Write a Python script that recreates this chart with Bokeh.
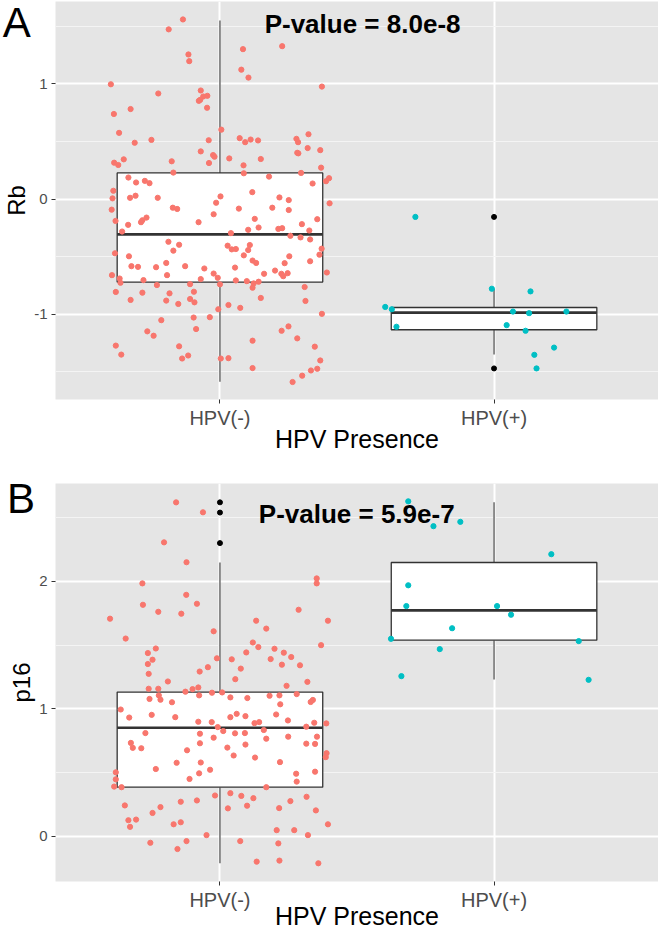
from bokeh.plotting import figure
from bokeh.models import Label, FixedTicker, Range1d
from bokeh.layouts import column
from bokeh.embed import file_html
from bokeh.resources import INLINE
from bokeh.core.properties import value

categories = ["HPV(-)", "HPV(+)"]
cat_pos = [1, 2]

# ---------------- Panel A : Rb ----------------
rb_neg = [
    (0.865, 1.560), (0.813, 1.474), (1.227, 1.328), (1.084, 1.302), (0.885, 1.256), (0.888, 1.198),
    (1.078, 1.124), (1.104, 1.055), (0.602, 0.997), (1.372, 0.977), (0.930, 0.943), (0.775, 0.917),
    (0.954, 0.897), (0.939, 0.891), (0.928, 0.862), (0.923, 0.853), (0.674, 0.782), (0.953, 0.793),
    (0.613, 0.739), (0.632, 0.575), (0.689, 0.489), (0.750, 0.514), (1.005, 0.603), (1.072, 0.529),
    (1.092, 0.494), (1.112, 0.517), (1.139, 0.509), (0.959, 0.511), (1.279, 0.523), (1.285, 0.494),
    (1.323, 0.563), (1.282, 0.402), (1.286, 0.397), (1.320, 0.443), (1.366, 0.425), (0.930, 0.414),
    (0.975, 0.382), (0.980, 0.368), (0.960, 0.313), (1.034, 0.353), (1.086, 0.293), (1.149, 0.348),
    (0.614, 0.316), (0.629, 0.296), (0.649, 0.345), (0.824, 0.328), (1.369, 0.273), (0.830, 0.230),
    (1.087, 0.224), (1.296, 0.227), (1.179, 0.195), (0.666, 0.187), (0.694, 0.144), (0.726, 0.158),
    (0.743, 0.138), (1.387, 0.155), (1.398, 0.181), (0.611, 0.072), (0.608, 0.006), (0.672, 0.011),
    (0.692, 0.029), (0.773, 0.011), (1.002, 0.023), (0.986, -0.032), (1.118, 0.060), (1.338, 0.135),
    (1.217, 0.014), (1.251, -0.009), (0.605, -0.092), (0.828, -0.075), (0.844, -0.086), (1.069, -0.083),
    (0.977, -0.132), (1.191, -0.075), (1.251, -0.095), (1.400, -0.037), (0.619, -0.190), (0.665, -0.224),
    (0.643, -0.282), (0.712, -0.201), (0.717, -0.184), (0.732, -0.161), (0.922, -0.201), (1.127, -0.172),
    (1.213, -0.259), (1.227, -0.253), (1.103, -0.267), (1.141, -0.247), (1.040, -0.296), (1.299, -0.218),
    (1.326, -0.273), (1.355, -0.175), (1.257, -0.319), (1.294, -0.333), (1.329, -0.351), (0.812, -0.371),
    (0.851, -0.397), (0.830, -0.448), (0.617, -0.471), (0.668, -0.497), (1.028, -0.405), (1.043, -0.437),
    (1.058, -0.434), (1.109, -0.399), (1.103, -0.443), (1.087, -0.489), (1.253, -0.497), (1.363, -0.483),
    (1.371, -0.431), (1.329, -0.540), (1.119, -0.534), (1.132, -0.555), (1.236, -0.557), (0.804, -0.555),
    (0.677, -0.583), (0.701, -0.589), (0.767, -0.592), (0.873, -0.583), (0.943, -0.603), (1.055, -0.595),
    (0.606, -0.661), (1.161, -0.649), (1.201, -0.621), (1.224, -0.649), (1.231, -0.670), (1.247, -0.644),
    (1.390, -0.638), (0.807, -0.661), (0.634, -0.690), (0.637, -0.727), (0.721, -0.704), (0.891, -0.739),
    (0.930, -0.695), (0.977, -0.647), (0.992, -0.684), (1.000, -0.741), (1.058, -0.707), (1.098, -0.713),
    (1.123, -0.733), (1.141, -0.718), (0.770, -0.747), (0.620, -0.807), (0.717, -0.813), (0.816, -0.819),
    (0.905, -0.805), (1.309, -0.764), (1.119, -0.770), (0.674, -0.876), (0.804, -0.882), (0.848, -0.911),
    (0.891, -0.868), (0.907, -0.897), (1.149, -0.859), (1.312, -0.885), (1.031, -0.920), (1.074, -0.945),
    (0.994, -0.957), (0.963, -1.026), (0.904, -1.029), (0.786, -1.052), (1.372, -0.997), (0.913, -1.129),
    (0.735, -1.149), (0.758, -1.187), (1.225, -1.144), (1.250, -1.106), (1.282, -1.210), (1.119, -1.230),
    (0.620, -1.273), (0.640, -1.351), (0.851, -1.279), (1.346, -1.282), (0.862, -1.385), (0.884, -1.359),
    (1.003, -1.385), (1.031, -1.382), (1.366, -1.402), (1.119, -1.468), (1.332, -1.489), (1.355, -1.474),
    (1.300, -1.534), (1.265, -1.589),
]
rb_neg_x = [a for a, b in rb_neg]
rb_neg_y = [b for a, b in rb_neg]
rb_pos_x = [1.713, 1.603, 1.627, 1.644, 1.992, 2.133, 2.069, 2.128, 2.264, 2.046, 2.115, 2.219, 2.147, 2.155]
rb_pos_y = [-0.155, -0.937, -0.957, -1.109, -0.779, -0.802, -0.977, -0.991, -0.977, -1.095, -1.144, -1.290, -1.353, -1.471]
rb_q1 = [-0.721, -1.135]
rb_med = [-0.307, -0.986]
rb_q3 = [0.227, -0.942]
rb_lo = [-1.586, -1.350]
rb_hi = [1.552, -0.779]
rb_out_x = [2, 2]
rb_out_y = [-0.155, -1.471]

# ---------------- Panel B : p16 ----------------
p16_neg = [
    (0.840, 2.620), (0.938, 2.542), (0.796, 2.306), (0.878, 2.150), (0.717, 1.984), (1.353, 2.023),
    (1.353, 1.984), (0.877, 1.894), (0.719, 1.816), (0.916, 1.824), (0.775, 1.761), (0.859, 1.746),
    (0.599, 1.707), (1.394, 1.691), (1.287, 1.777), (1.132, 1.691), (1.169, 1.629), (0.977, 1.608),
    (0.656, 1.551), (1.369, 1.499), (1.120, 1.520), (1.140, 1.484), (1.096, 1.442), (1.199, 1.471),
    (1.233, 1.440), (1.260, 1.406), (0.737, 1.437), (0.766, 1.473), (0.754, 1.385), (0.737, 1.351),
    (0.989, 1.396), (1.043, 1.388), (0.956, 1.326), (0.926, 1.292), (1.076, 1.315), (1.292, 1.341),
    (1.226, 1.346), (1.185, 1.390), (0.740, 1.274), (1.056, 1.232), (0.810, 1.214), (1.319, 1.211),
    (0.740, 1.157), (0.775, 1.157), (1.243, 1.180), (0.921, 1.167), (0.900, 1.154), (0.743, 1.077),
    (0.777, 1.105), (0.783, 1.071), (0.825, 1.051), (0.874, 1.134), (0.924, 1.105), (0.971, 1.126),
    (1.008, 1.128), (1.038, 1.089), (1.100, 1.084), (1.181, 1.102), (1.217, 1.105), (1.280, 1.115),
    (1.339, 1.069), (1.331, 1.053), (1.220, 1.035), (0.638, 0.994), (0.751, 0.952), (0.669, 0.931),
    (0.837, 0.934), (0.921, 0.898), (0.970, 0.895), (1.038, 0.934), (1.061, 0.960), (1.093, 0.942),
    (1.126, 0.887), (1.143, 0.895), (1.205, 0.955), (1.248, 0.908), (1.315, 0.859), (1.344, 0.890),
    (1.388, 0.885), (0.728, 0.809), (0.675, 0.732), (0.682, 0.693), (0.713, 0.690), (0.927, 0.729),
    (0.927, 0.804), (0.992, 0.856), (0.977, 0.773), (1.012, 0.825), (1.055, 0.807), (1.091, 0.809),
    (1.160, 0.833), (1.093, 0.719), (1.027, 0.695), (1.169, 0.765), (1.249, 0.781), (1.315, 0.726),
    (1.347, 0.724), (1.354, 0.781), (1.128, 0.617), (0.930, 0.578), (0.880, 0.674), (0.842, 0.576),
    (0.766, 0.527), (1.050, 0.633), (0.964, 0.521), (0.924, 0.493), (0.889, 0.449), (1.219, 0.581),
    (1.278, 0.490), (1.280, 0.428), (1.347, 0.506), (1.386, 0.620), (1.389, 0.651), (0.620, 0.501),
    (0.620, 0.446), (0.614, 0.389), (0.641, 0.384), (0.653, 0.241), (0.666, 0.125), (0.672, 0.073),
    (0.694, 0.130), (0.754, 0.182), (0.783, 0.228), (0.857, 0.270), (0.916, 0.280), (0.982, 0.319),
    (1.029, 0.218), (1.038, 0.337), (1.078, 0.316), (1.099, 0.239), (1.122, 0.298), (1.169, 0.384),
    (1.216, 0.220), (1.257, 0.275), (1.316, 0.309), (1.350, 0.202), (1.207, 0.047), (1.271, 0.047),
    (1.321, 0.008), (1.394, 0.093), (1.213, -0.057), (1.074, -0.039), (0.951, 0.008), (0.878, -0.039),
    (0.845, -0.101), (0.746, -0.052), (0.831, 0.093), (0.857, 0.109), (1.134, -0.200), (1.217, -0.192),
    (1.359, -0.213),
]
p16_neg_x = [a for a, b in p16_neg]
p16_neg_y = [b for a, b in p16_neg]
p16_pos_x = [1.687, 1.779, 1.877, 2.209, 1.687, 1.680, 2.011, 2.062, 1.847, 1.624, 1.802, 1.662, 2.309, 2.345]
p16_pos_y = [2.628, 2.433, 2.467, 2.213, 1.969, 1.806, 1.806, 1.738, 1.632, 1.549, 1.468, 1.256, 1.531, 1.227]
p16_q1 = [0.384, 1.538]
p16_med = [0.851, 1.772]
p16_q3 = [1.131, 2.148]
p16_lo = [-0.212, 1.230]
p16_hi = [2.148, 2.620]
p16_out_x = [1, 1, 1]
p16_out_y = [2.620, 2.540, 2.300]

p_values = ["8.0e-8", "5.9e-7"]
x_title = "HPV Presence"

RED = "#F8766D"
TEAL = "#00BFC4"
FONT = "Liberation Sans"
BOX_HALF = 0.375
X0, X1 = 0.4, 2.6
BASE_SHIFT = 0.39   # measured offset of the rendered alphabetic baseline, in em
LETTER_SIZE = 42


def make_panel(W, H, left, top, bottom, y0, y1, yticks, yminor, ylabel,
               neg_x, neg_y, pos_x, pos_y, q1, med, q3, lo, hi, out_x, out_y,
               ptxt, p_cx_px, p_base_px, letter, letter_base_px, title_base_px, native_title):
    p = figure(width=W, height=H, x_range=Range1d(X0, X1), y_range=Range1d(y0, y1),
               output_backend="svg", toolbar_location=None,
               min_border_left=left, min_border_right=0,
               min_border_top=top, min_border_bottom=bottom)
    p.background_fill_color = "#E5E5E5"
    p.border_fill_color = "white"
    p.outline_line_color = None

    fw = W - left
    fh = H - top - bottom

    def fx(px):
        return X0 + (px - left) * (X1 - X0) / fw

    def fy(py, size=0):
        py = py - BASE_SHIFT * size
        return y1 - (py - top) * (y1 - y0) / fh

    # axes
    p.xaxis.ticker = FixedTicker(ticks=cat_pos)
    p.xaxis.major_label_overrides = {c: t for c, t in zip(cat_pos, categories)}
    p.yaxis.ticker = FixedTicker(ticks=yticks, minor_ticks=yminor)
    p.yaxis.major_label_overrides = {t: ("%d" % t) for t in yticks}
    for ax in (p.xaxis[0], p.yaxis[0]):
        ax.axis_line_color = None
        ax.major_tick_in = 0
        ax.major_tick_out = 4
        ax.major_tick_line_color = "#333333"
        ax.minor_tick_line_color = None
        ax.major_label_text_color = "#4D4D4D"
        ax.major_label_text_font = FONT
    p.xaxis.major_label_text_font_size = "20px"
    p.xaxis.major_label_standoff = 3
    p.yaxis.major_label_text_font_size = "15px"
    p.yaxis.major_label_standoff = 4
    p.yaxis.axis_label = ylabel
    p.yaxis.axis_label_text_font = FONT
    p.yaxis.axis_label_text_font_size = "24px"
    p.yaxis.axis_label_text_font_style = "normal"
    p.yaxis.axis_label_text_color = "black"
    p.yaxis.axis_label_standoff = 1
    if native_title:
        p.xaxis.axis_label = x_title
        p.xaxis.axis_label_text_font = FONT
        p.xaxis.axis_label_text_font_size = "25px"
        p.xaxis.axis_label_text_font_style = "normal"
        p.xaxis.axis_label_text_color = "black"
        p.xaxis.axis_label_standoff = -7

    # grids
    p.xgrid.ticker = FixedTicker(ticks=cat_pos)
    p.xgrid.grid_line_color = "white"
    p.xgrid.grid_line_width = 2
    p.ygrid.grid_line_color = "white"
    p.ygrid.grid_line_width = 2
    p.ygrid.minor_grid_line_color = "#F4F4F4"
    p.ygrid.minor_grid_line_width = 1

    # whiskers
    p.segment(x0=cat_pos, y0=q3, x1=cat_pos, y1=hi, line_color="#555555", line_width=1.3)
    p.segment(x0=cat_pos, y0=q1, x1=cat_pos, y1=lo, line_color="#555555", line_width=1.3)
    # boxes
    p.quad(left=[c - BOX_HALF for c in cat_pos], right=[c + BOX_HALF for c in cat_pos],
           bottom=q1, top=q3, fill_color="white", line_color="#333333", line_width=1.3)
    p.segment(x0=[c - BOX_HALF for c in cat_pos], y0=med, x1=[c + BOX_HALF for c in cat_pos], y1=med,
              line_color="#333333", line_width=2.6)
    # outliers
    p.scatter(out_x, out_y, size=5, fill_color="black", line_color="black")
    # jittered points
    p.scatter(neg_x, neg_y, size=5.2, fill_color=RED, line_color=RED)
    p.scatter(pos_x, pos_y, size=5.2, fill_color=TEAL, line_color=TEAL)

    p.add_layout(Label(x=fx(p_cx_px), y=fy(p_base_px, 26), text="P-value = " + ptxt, text_align="center",
                       text_baseline="alphabetic", text_font=FONT, text_font_style="bold",
                       text_font_size="26px", text_color="black"))
    # texts that sit outside the data frame (drawn on the overlay level so they are not clipped)
    p.text(x=[fx(0)], y=[fy(letter_base_px, LETTER_SIZE)], text=[letter], level="overlay",
           text_align="left", text_baseline="alphabetic", text_font=value(FONT),
           text_font_size=value("%dpx" % LETTER_SIZE), text_color="black")
    if not native_title:
        p.text(x=[1.5], y=[fy(title_base_px, 25)], text=[x_title], level="overlay",
               text_align="center", text_baseline="alphabetic", text_font=value(FONT),
               text_font_size=value("25px"), text_color="black")
    return p


pA = make_panel(658, 466, 53, 1, 67, -1.741, 1.716, [-1, 0, 1], [-1.5, -0.5, 0.5, 1.5], "Rb",
                rb_neg_x, rb_neg_y, rb_pos_x, rb_pos_y, rb_q1, rb_med, rb_q3, rb_lo, rb_hi,
                rb_out_x, rb_out_y, p_values[0], 361.1, 33.5, "A", 38.5, 447.9, True)
pB = make_panel(658, 465, 49, 17, 50, -0.356, 2.768, [0, 1, 2], [0.5, 1.5, 2.5], "p16",
                p16_neg_x, p16_neg_y, p16_pos_x, p16_pos_y, p16_q1, p16_med, p16_q3, p16_lo, p16_hi,
                p16_out_x, p16_out_y, p_values[1], 353.2, 57.8, "B", 48.0, 459.0, False)

layout = column(pA, pB)
open("out.html", "w").write(file_html(layout, INLINE))
